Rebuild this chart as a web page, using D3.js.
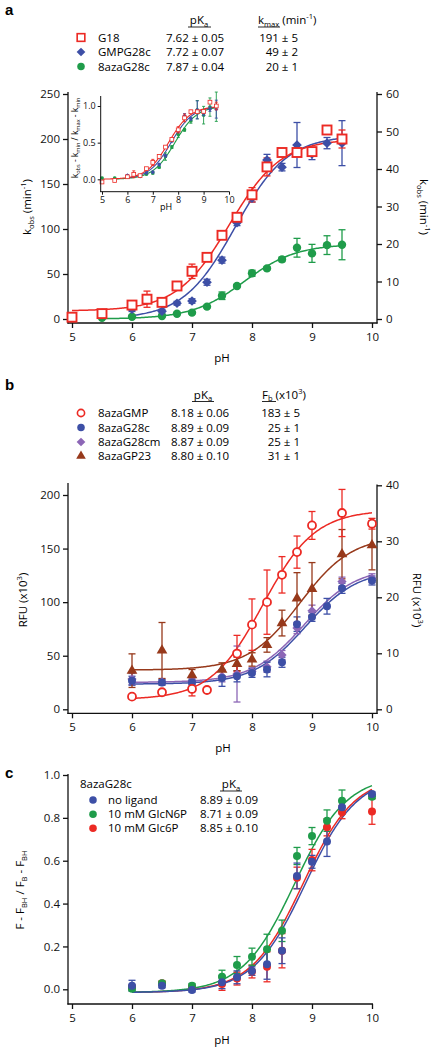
<!DOCTYPE html>
<html><head><meta charset="utf-8">
<script src="https://cdn.jsdelivr.net/npm/d3@7"></script>
<style>
body{margin:0;background:#fff;}
svg{font-family:"Open Sans","Noto Sans",sans-serif;}
</style></head><body>
<svg id="chart" width="432" height="1050"></svg>
<script>
// ---------------- Panel a data ----------------
const phG18 = [5,5.5,6,6.25,6.5,6.75,7,7.25,7.5,7.75,8,8.25,8.5,8.75,9,9.25,9.5];
const kG18 = [2,6,15.5,22,18.5,36.7,53,68.5,93,113,138,169,185,185,186,210,200];
const eG18 = [1,3,2,9,2,2,8,4,3,3,8,10,4,4,4,3,10];
const phGMP = [6,6.5,6.75,7,7.25,7.5,7.75,8,8.25,8.5,8.75,9,9.25,9.5];
const kGMP = [2.6,2.1,4.2,4.8,9.8,15.7,25.7,32.2,42.4,40.5,46.4,44,46.9,46.9];
const eGMP = [0.6,0.5,0.5,0.6,0.8,0.8,0.8,1,1.5,1,6,1.5,1.5,6];
const phAza = [5,5.5,6,6.5,6.75,7,7.25,7.5,7.75,8,8.25,8.5,8.75,9,9.25,9.5];
const kAza = [0.35,0.35,0.6,0.8,1.4,1.7,3.3,6.2,8.8,12.2,13.5,15.9,19,17.5,19.7,19.8];
const eAza = [0.2,0.2,0.2,0.2,0.2,0.3,0.3,1,0.4,0.8,0.4,0.6,2.5,2.4,2.5,4];
const legendA = ["G18","GMPG28c","8azaG28c"];
const pKaA = ["7.62 ± 0.05","7.72 ± 0.07","7.87 ± 0.04"];
const kmaxTxtA = ["191 ± 5","49 ± 2","20 ± 1"];
const fitPkaA = [7.62,7.72,7.87];
const fitMinA = [9,0,0];
const fitMaxA = [191,49,20];
const xTicks = [5,6,7,8,9,10];
const yTicksAL = [0,50,100,150,200,250];
const yTicksAR = [0,10,20,30,40,50,60];
const insetYTicks = [0,0.5,1];

// ---------------- Panel b data ----------------
const phBGMP = [6,6.5,7,7.25,7.75,8,8.25,8.5,8.75,9,9.5,10];
const fBGMP = [11.8,15.9,19,18,52,79,100,125.5,146.7,171.6,183.2,173.2];
const eBGMP = [2,2,6.5,1,17,24,30,17,15,13,22,5];
const phBG28 = [6,6.5,7,7.5,7.75,8,8.25,8.5,8.75,9,9.25,9.5,10];
const fBG28 = [5.1,4.8,4.8,5.6,5.9,6.5,7.1,8.4,15.2,16.5,18.4,21.6,23.0];
const eBG28 = [0.8,0.5,0.5,1.5,1,0.8,1.3,0.9,1.3,0.8,1.4,0.9,0.8];
const phBG28cm = [6,6.5,7,7.5,7.75,8,8.25,8.5,8.75,9,9.5,10];
const fBG28cm = [5.4,4.9,5.0,5.9,6.3,6.8,7.6,9.7,14.5,17.6,22.8,23.4];
const eBG28cm = [1,0.5,0.5,1,5,0.6,1,0.8,1,1,0.8,0.8];
const phBP23 = [6,6.5,7,7.5,7.75,8,8.25,8.5,8.75,9,9.5,10];
const fBP23 = [6.9,10.5,6.1,7.1,8.1,8.9,11.5,15.4,19.8,21.5,27.7,29.3];
const eBP23 = [3,5,1,1.2,1.2,1.2,1.3,2.3,4.6,4.7,4.4,4.4];
const legendB = ["8azaGMP","8azaG28c","8azaG28cm","8azaGP23"];
const pKaB = ["8.18 ± 0.06","8.89 ± 0.09","8.87 ± 0.09","8.80 ± 0.10"];
const fbTxtB = ["183 ± 5","25 ± 1","25 ± 1","31 ± 1"];
const fitPkaB = [8.18,8.89,8.87,8.80];
const fitMinB = [9,4.5,4.8,7];
const fitMaxB = [186,25,25.4,31];
const yTicksBL = [0,50,100,150,200];
const yTicksBR = [0,10,20,30,40];

// ---------------- Panel c data ----------------
const phC = [6,6.5,7,7.5,7.75,8,8.25,8.5,8.75,9,9.25,9.5,10];
const nNoLig = [0.017,0.017,-0.003,0.033,0.056,0.085,0.117,0.18,0.529,0.595,0.69,0.849,0.911];
const eNoLig = [0.025,0.01,0.01,0.03,0.03,0.02,0.07,0.06,0.06,0.03,0.07,0.03,0.01];
const nGlcN6P = [0.003,0.028,0.017,0.059,0.113,0.152,0.187,0.273,0.622,0.715,0.787,0.88,0.899];
const eGlcN6P = [0.01,0.01,0.01,0.03,0.04,0.04,0.07,0.05,0.04,0.04,0.05,0.05,0.01];
const nGlc6P = [0.01,0.028,0.01,0.025,0.05,0.083,0.105,0.18,0.52,0.603,0.756,0.826,0.83];
const eGlc6P = [0.01,0.01,0.01,0.03,0.03,0.03,0.07,0.08,0.05,0.05,0.04,0.03,0.06];
const legendC = ["no ligand","10 mM GlcN6P","10 mM Glc6P"];
const pKaC = ["8.89 ± 0.09","8.71 ± 0.09","8.85 ± 0.10"];
const fitPkaC = [8.89,8.71,8.85];
const yTicksC = [0,0.2,0.4,0.6,0.8,1.0];

// ---------------- colours ----------------
const RED = "#ec2a24", BLUE = "#3d4fa6", GREEN = "#1f9c4a", PURPLE = "#8c66b6", BROWN = "#97391b";
const FS = 11.5;

const svg = d3.select("#chart");

function sig(lo, hi, pKa) { return ph => lo + (hi - lo) / (1 + Math.pow(10, pKa - ph)); }

function rich(sel, segs, size) {
  let shift = 0;
  segs.forEach(s => {
    const target = s.sub ? size * 0.25 : s.sup ? -size * 0.42 : 0;
    sel.append("tspan").attr("dy", target - shift)
      .attr("font-size", (s.sub || s.sup) ? size * 0.66 : size).text(s.t);
    shift = target;
  });
  return sel;
}

function styleAxis(g, size) {
  g.select(".domain").remove();
  g.selectAll(".tick line").attr("stroke", "#111").attr("stroke-width", 1.3);
  g.selectAll(".tick text").attr("font-size", size).attr("fill", "#111")
    .attr("font-family", '"Open Sans","Noto Sans",sans-serif');
}

function vline(x, y1, y2, w) {
  svg.append("line").attr("x1", x).attr("x2", x).attr("y1", y1).attr("y2", y2)
    .attr("stroke", "#111").attr("stroke-width", w || 1.3);
}
function hline(y, x1, x2, w) {
  svg.append("line").attr("x1", x1).attr("x2", x2).attr("y1", y).attr("y2", y)
    .attr("stroke", "#111").attr("stroke-width", w || 1.3);
}

function curve(g, x, y, f, p0, p1, color, w) {
  const pts = d3.range(p0, p1 + 0.0001, 0.02).map(p => [x(p), y(f(p))]);
  g.append("path").attr("d", d3.line()(pts)).attr("fill", "none")
    .attr("stroke", color).attr("stroke-width", w || 1.5);
}

function errBars(g, xs, ys, es, x, y, color, cap, w) {
  cap = cap || 3;
  xs.forEach((p, i) => {
    const e = es[i];
    const cx = x(p), y1 = y(ys[i] + e), y2 = y(ys[i] - e);
    g.append("line").attr("x1", cx).attr("x2", cx).attr("y1", y1).attr("y2", y2)
      .attr("stroke", color).attr("stroke-width", w || 1.2);
    [y1, y2].forEach(yy => g.append("line").attr("x1", cx - cap).attr("x2", cx + cap)
      .attr("y1", yy).attr("y2", yy).attr("stroke", color).attr("stroke-width", w || 1.2));
  });
}

function marker(g, type, cx, cy, color, s) {
  s = s || 1;
  if (type === "sq") {
    g.append("rect").attr("x", cx - 4.5 * s).attr("y", cy - 4.5 * s).attr("width", 9 * s).attr("height", 9 * s)
      .attr("fill", "#fff").attr("stroke", color).attr("stroke-width", 1.9 * s);
  } else if (type === "ocirc") {
    g.append("circle").attr("cx", cx).attr("cy", cy).attr("r", 4 * s)
      .attr("fill", "#fff").attr("stroke", color).attr("stroke-width", 1.8 * s);
  } else if (type === "circ") {
    g.append("circle").attr("cx", cx).attr("cy", cy).attr("r", 4.2 * s).attr("fill", color);
  } else if (type === "dia") {
    g.append("path").attr("transform", `translate(${cx},${cy})`)
      .attr("d", d3.symbol(d3.symbolDiamond2 || d3.symbolDiamond, 60 * s * s)()).attr("fill", color);
  } else if (type === "tri") {
    g.append("path").attr("transform", `translate(${cx},${cy})`)
      .attr("d", d3.symbol(d3.symbolTriangle, 50 * s * s)()).attr("fill", color);
  }
}

function points(g, type, xs, ys, x, y, color, s) {
  xs.forEach((p, i) => marker(g, type, x(p), y(ys[i]), color, s));
}

function panelLetter(t, x, y) {
  svg.append("text").attr("x", x).attr("y", y).attr("font-size", 15).attr("font-weight", "bold")
    .attr("font-family", '"Liberation Sans",Arial,sans-serif').text(t);
}

function underline(x1, x2, y) {
  svg.append("line").attr("x1", x1).attr("x2", x2).attr("y1", y).attr("y2", y)
    .attr("stroke", "#111").attr("stroke-width", 0.9);
}

const fmtInt = d3.format("d");

// =============== PANEL A ===============
const xA = d3.scaleLinear().domain([5, 10]).range([72, 372]);
const yAL = d3.scaleLinear().domain([0, 250]).range([319, 94]);
const yAR = d3.scaleLinear().domain([0, 60]).range([319, 94]);

panelLetter("a", 5, 15);

// legend
{
  const rowsY = [41.5, 56, 70.5];
  const types = ["sq", "dia", "circ"], cols = [RED, BLUE, GREEN];
  const pk = svg.append("text").attr("x", 199).attr("y", 24).attr("text-anchor", "middle").attr("font-size", FS);
  rich(pk, [{t: "pK"}, {t: "a", sub: true}], FS);
  underline(188, 211, 27);
  const km = svg.append("text").attr("x", 258).attr("y", 24).attr("font-size", FS);
  rich(km, [{t: "k"}, {t: "max", sub: true}, {t: " (min"}, {t: "-1", sup: true}, {t: ")"}], FS);
  underline(258, 280, 27);
  legendA.forEach((n, i) => {
    marker(svg, types[i], 81, rowsY[i] - 4, cols[i], types[i] === "sq" ? 0.85 : 0.9);
    svg.append("text").attr("x", 98).attr("y", rowsY[i]).attr("font-size", FS).text(n);
    svg.append("text").attr("x", 166).attr("y", rowsY[i]).attr("font-size", FS).text(pKaA[i]);
    svg.append("text").attr("x", 298).attr("y", rowsY[i]).attr("font-size", FS).attr("text-anchor", "end").text(kmaxTxtA[i]);
  });
}

// axes
{
  const gl = svg.append("g").attr("transform", "translate(68,0)")
    .call(d3.axisLeft(yAL).tickValues(yTicksAL).tickSize(5).tickPadding(3).tickFormat(fmtInt));
  styleAxis(gl, FS);
  const gr = svg.append("g").attr("transform", "translate(377,0)")
    .call(d3.axisRight(yAR).tickValues(yTicksAR).tickSize(5).tickPadding(4).tickFormat(fmtInt));
  styleAxis(gr, FS);
  const gb = svg.append("g").attr("transform", "translate(0,323)")
    .call(d3.axisBottom(xA).tickValues(xTicks).tickSize(5).tickPadding(5).tickFormat(fmtInt));
  styleAxis(gb, FS);
  vline(68, 92, 323.6);
  vline(377, 92, 323.6);
  hline(323, 67.4, 377.6);
  svg.append("text").attr("x", 222).attr("y", 362).attr("text-anchor", "middle").attr("font-size", FS).text("pH");
  const tl = svg.append("text").attr("transform", "translate(31,207) rotate(-90)").attr("text-anchor", "middle").attr("font-size", FS);
  rich(tl, [{t: "k"}, {t: "obs", sub: true}, {t: " (min"}, {t: "-1", sup: true}, {t: ")"}], FS);
  const tr = svg.append("text").attr("transform", "translate(420,207) rotate(90)").attr("text-anchor", "middle").attr("font-size", FS);
  rich(tr, [{t: "k"}, {t: "obs", sub: true}, {t: " (min"}, {t: "-1", sup: true}, {t: ")"}], FS);
}

// data
{
  const g = svg.append("g");
  curve(g, xA, yAR, sig(fitMinA[2], fitMaxA[2], fitPkaA[2]), 5.5, 9.5, GREEN);
  curve(g, xA, yAR, sig(fitMinA[1], fitMaxA[1], fitPkaA[1]), 6, 9.5, BLUE);
  curve(g, xA, yAL, sig(fitMinA[0], fitMinA[0] + fitMaxA[0], fitPkaA[0]), 5, 9.5, RED);
  errBars(g, phAza, kAza, eAza, xA, yAR, GREEN, 3.5, 1.3);
  errBars(g, phGMP, kGMP, eGMP, xA, yAR, BLUE, 3.5, 1.3);
  errBars(g, phG18, kG18, eG18, xA, yAL, RED, 3.5, 1.3);
  points(g, "circ", phAza, kAza, xA, yAR, GREEN, 1);
  points(g, "dia", phGMP, kGMP, xA, yAR, BLUE, 1);
  points(g, "sq", phG18, kG18, xA, yAL, RED, 1);
}

// inset
{
  const xI = d3.scaleLinear().domain([5, 10]).range([102, 229]);
  const yI = d3.scaleLinear().domain([0, 1]).range([179.3, 106]);
  const g = svg.append("g");
  const gl = svg.append("g").attr("transform", "translate(100.7,0)")
    .call(d3.axisLeft(yI).tickValues(insetYTicks).tickSize(3).tickPadding(2).tickFormat(d3.format(".1f")));
  styleAxis(gl, 9);
  gl.selectAll(".tick line").attr("stroke-width", 1);
  const gb = svg.append("g").attr("transform", "translate(0,191.7)")
    .call(d3.axisBottom(xI).tickValues(xTicks).tickSize(3).tickPadding(2).tickFormat(fmtInt));
  styleAxis(gb, 9);
  gb.selectAll(".tick line").attr("stroke-width", 1);
  vline(100.7, 96, 192, 1);
  hline(191.7, 100.2, 229.5, 1);
  svg.append("text").attr("x", 166).attr("y", 210).attr("text-anchor", "middle").attr("font-size", 9).text("pH");
  const tl = svg.append("text").attr("transform", "translate(78,138) rotate(-90)").attr("text-anchor", "middle").attr("font-size", 8.5);
  rich(tl, [{t: "k"}, {t: "obs", sub: true}, {t: " - k"}, {t: "min", sub: true}, {t: " / k"}, {t: "max", sub: true}, {t: " - k"}, {t: "min", sub: true}], 8.5);

  const series = [
    [phAza, kAza, eAza, 2, GREEN, "circ", 5.5],
    [phGMP, kGMP, eGMP, 1, BLUE, "dia", 6],
    [phG18, kG18, eG18, 0, RED, "sq", 5]
  ];
  series.forEach(s => curve(g, xI, yI, sig(0, 1, fitPkaA[s[3]]), s[6], 9.5, s[4], 1.1));
  series.forEach(s => {
    const idx = s[3];
    const nv = s[1].map(v => (v - fitMinA[idx]) / fitMaxA[idx]);
    const ne = s[2].map(v => v / fitMaxA[idx]);
    errBars(g, s[0], nv, ne, xI, yI, s[4], 1.5, 0.9);
    points(g, s[5], s[0], nv, xI, yI, s[4], 0.42);
  });
}

// =============== PANEL B ===============
const xB = d3.scaleLinear().domain([5, 10]).range([72, 372]);
const yBL = d3.scaleLinear().domain([0, 200]).range([709.3, 495]);
const yBR = d3.scaleLinear().domain([0, 40]).range([709.3, 485.3]);

panelLetter("b", 5, 390);
{
  const rowsY = [417, 431.5, 446, 460];
  const types = ["ocirc", "circ", "dia", "tri"], cols = [RED, BLUE, PURPLE, BROWN];
  const pk = svg.append("text").attr("x", 203).attr("y", 398.5).attr("text-anchor", "middle").attr("font-size", FS);
  rich(pk, [{t: "pK"}, {t: "a", sub: true}], FS);
  underline(192, 214, 401.5);
  const fb = svg.append("text").attr("x", 262).attr("y", 398.5).attr("font-size", FS);
  rich(fb, [{t: "F"}, {t: "b", sub: true}, {t: " (x10"}, {t: "3", sup: true}, {t: ")"}], FS);
  underline(262, 276, 401.5);
  legendB.forEach((n, i) => {
    marker(svg, types[i], 81, rowsY[i] - 4, cols[i], 0.9);
    svg.append("text").attr("x", 98).attr("y", rowsY[i]).attr("font-size", FS).text(n);
    svg.append("text").attr("x", 171).attr("y", rowsY[i]).attr("font-size", FS).text(pKaB[i]);
    svg.append("text").attr("x", 300).attr("y", rowsY[i]).attr("font-size", FS).attr("text-anchor", "end").text(fbTxtB[i]);
  });
}
{
  const gl = svg.append("g").attr("transform", "translate(68,0)")
    .call(d3.axisLeft(yBL).tickValues(yTicksBL).tickSize(5).tickPadding(3).tickFormat(fmtInt));
  styleAxis(gl, FS);
  const gr = svg.append("g").attr("transform", "translate(377,0)")
    .call(d3.axisRight(yBR).tickValues(yTicksBR).tickSize(5).tickPadding(4).tickFormat(fmtInt));
  styleAxis(gr, FS);
  const gb = svg.append("g").attr("transform", "translate(0,713.3)")
    .call(d3.axisBottom(xB).tickValues(xTicks).tickSize(5).tickPadding(5).tickFormat(fmtInt));
  styleAxis(gb, FS);
  vline(68, 483, 713.9);
  vline(377, 484.5, 713.9);
  hline(713.3, 67.4, 377.6);
  svg.append("text").attr("x", 223).attr("y", 752).attr("text-anchor", "middle").attr("font-size", FS).text("pH");
  const tl = svg.append("text").attr("transform", "translate(27,600) rotate(-90)").attr("text-anchor", "middle").attr("font-size", FS);
  rich(tl, [{t: "RFU (x10"}, {t: "3", sup: true}, {t: ")"}], FS);
  const tr = svg.append("text").attr("transform", "translate(413,600) rotate(90)").attr("text-anchor", "middle").attr("font-size", FS);
  rich(tr, [{t: "RFU (x10"}, {t: "3", sup: true}, {t: ")"}], FS);
}
{
  const g = svg.append("g");
  curve(g, xB, yBR, sig(fitMinB[2], fitMaxB[2], fitPkaB[2]), 6, 10, PURPLE);
  curve(g, xB, yBR, sig(fitMinB[1], fitMaxB[1], fitPkaB[1]), 6, 10, BLUE);
  curve(g, xB, yBR, sig(fitMinB[3], fitMaxB[3], fitPkaB[3]), 6, 10, BROWN);
  curve(g, xB, yBL, sig(fitMinB[0], fitMaxB[0], fitPkaB[0]), 6, 10, RED);
  errBars(g, phBG28cm, fBG28cm, eBG28cm, xB, yBR, PURPLE, 3.5, 1.3);
  errBars(g, phBG28, fBG28, eBG28, xB, yBR, BLUE, 3.5, 1.3);
  errBars(g, phBP23, fBP23, eBP23, xB, yBR, BROWN, 3.5, 1.3);
  errBars(g, phBGMP, fBGMP, eBGMP, xB, yBL, RED, 3.5, 1.3);
  points(g, "dia", phBG28cm, fBG28cm, xB, yBR, PURPLE, 0.95);
  points(g, "circ", phBG28, fBG28, xB, yBR, BLUE, 0.95);
  points(g, "tri", phBP23, fBP23, xB, yBR, BROWN, 1);
  points(g, "ocirc", phBGMP, fBGMP, xB, yBL, RED, 1);
}

// =============== PANEL C ===============
const xC = d3.scaleLinear().domain([5, 10]).range([72, 372]);
const yC = d3.scaleLinear().domain([0, 1]).range([989.3, 775]);

panelLetter("c", 5, 778);
{
  svg.append("text").attr("x", 80).attr("y", 788).attr("font-size", FS).text("8azaG28c");
  const pk = svg.append("text").attr("x", 231).attr("y", 788).attr("text-anchor", "middle").attr("font-size", FS);
  rich(pk, [{t: "pK"}, {t: "a", sub: true}], FS);
  underline(220, 242, 791);
  const rowsY = [804, 818.3, 832.3];
  const cols = [BLUE, GREEN, RED];
  legendC.forEach((n, i) => {
    marker(svg, "circ", 93, rowsY[i] - 4, cols[i], 0.9);
    svg.append("text").attr("x", 108).attr("y", rowsY[i]).attr("font-size", FS).text(n);
    svg.append("text").attr("x", 200).attr("y", rowsY[i]).attr("font-size", FS).text(pKaC[i]);
  });
}
{
  const gl = svg.append("g").attr("transform", "translate(68,0)")
    .call(d3.axisLeft(yC).tickValues(yTicksC).tickSize(5).tickPadding(3).tickFormat(d3.format(".1f")));
  styleAxis(gl, FS);
  const gb = svg.append("g").attr("transform", "translate(0,1004)")
    .call(d3.axisBottom(xC).tickValues(xTicks).tickSize(5).tickPadding(5).tickFormat(fmtInt));
  styleAxis(gb, FS);
  vline(68, 774, 1004.6);
  hline(1004, 67.4, 373);
  svg.append("text").attr("x", 222).attr("y", 1044).attr("text-anchor", "middle").attr("font-size", FS).text("pH");
  const tl = svg.append("text").attr("transform", "translate(24,890) rotate(-90)").attr("text-anchor", "middle").attr("font-size", FS);
  rich(tl, [{t: "F - F"}, {t: "BH", sub: true}, {t: " / F"}, {t: "B", sub: true}, {t: " - F"}, {t: "BH", sub: true}], FS);
}
{
  const g = svg.append("g");
  const sets = [[nGlc6P, eGlc6P, RED, 2], [nGlcN6P, eGlcN6P, GREEN, 1], [nNoLig, eNoLig, BLUE, 0]];
  sets.forEach(s => curve(g, xC, yC, sig(-0.015, 1, fitPkaC[s[3]]), 6, 10, s[2]));
  sets.forEach(s => errBars(g, phC, s[0], s[1], xC, yC, s[2], 3.5, 1.3));
  sets.forEach(s => points(g, "circ", phC, s[0], xC, yC, s[2], 0.95));
}
</script>
</body></html>
